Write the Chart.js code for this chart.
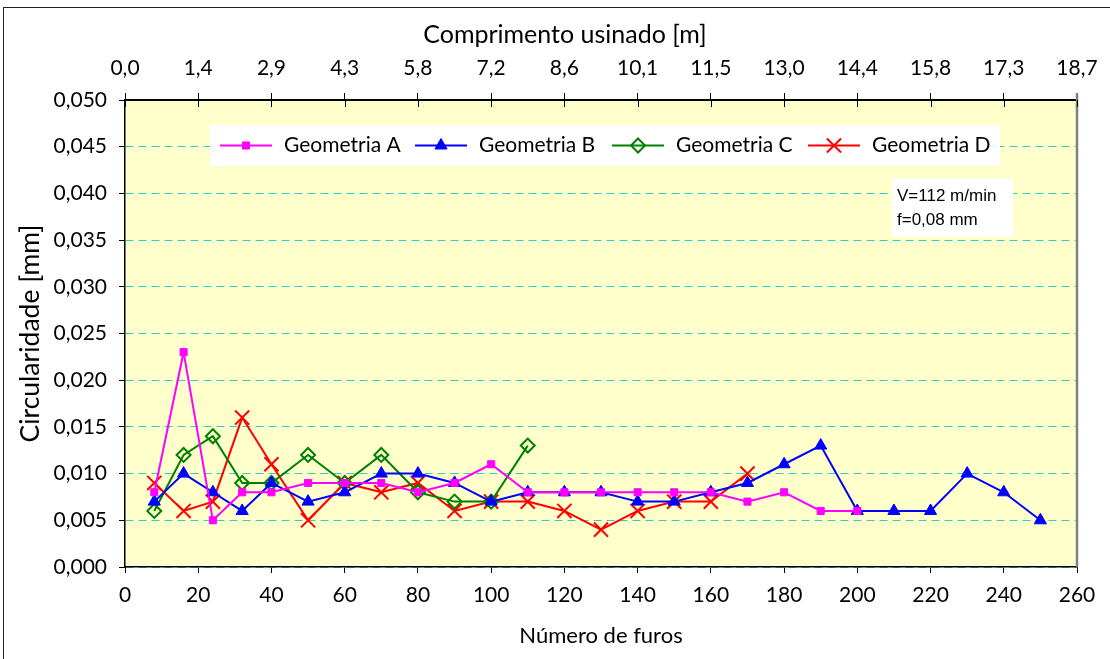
<!DOCTYPE html>
<html>
<head>
<meta charset="utf-8">
<title>Circularidade x Número de furos</title>
<script src="https://cdn.jsdelivr.net/npm/chart.js@4/dist/chart.umd.min.js"></script>
<style>
  html, body { margin: 0; padding: 0; background: #fff; }
  #wrap { position: relative; width: 1110px; height: 659px; overflow: hidden; }
  #frame { position: absolute; left: 3px; top: 7px; width: 1120px; height: 700px; border: 1px solid #222; box-sizing: border-box; }
  canvas { position: absolute; left: 0; top: 0; }
</style>
</head>
<body>
<div id="wrap">
  <div id="frame"></div>
  <canvas id="c" width="1110" height="659"></canvas>
</div>
<script>
// Hole counts (x) and circularity in mm (y) for each tool geometry
const furosA = [8, 16, 24, 32, 40, 50, 60, 70, 80, 90, 100, 110, 120, 130, 140, 150, 160, 170, 180, 190, 200];
const circA  = [0.008, 0.023, 0.005, 0.008, 0.008, 0.009, 0.009, 0.009, 0.008, 0.009, 0.011, 0.008, 0.008, 0.008, 0.008, 0.008, 0.008, 0.007, 0.008, 0.006, 0.006];

const furosB = [8, 16, 24, 32, 40, 50, 60, 70, 80, 90, 100, 110, 120, 130, 140, 150, 160, 170, 180, 190, 200, 210, 220, 230, 240, 250];
const circB  = [0.007, 0.010, 0.008, 0.006, 0.009, 0.007, 0.008, 0.010, 0.010, 0.009, 0.007, 0.008, 0.008, 0.008, 0.007, 0.007, 0.008, 0.009, 0.011, 0.013, 0.006, 0.006, 0.006, 0.010, 0.008, 0.005];

const furosC = [8, 16, 24, 32, 40, 50, 60, 70, 80, 90, 100, 110];
const circC  = [0.006, 0.012, 0.014, 0.009, 0.009, 0.012, 0.009, 0.012, 0.008, 0.007, 0.007, 0.013];

const furosD = [8, 16, 24, 32, 40, 50, 60, 70, 80, 90, 100, 110, 120, 130, 140, 150, 160, 170];
const circD  = [0.009, 0.006, 0.007, 0.016, 0.011, 0.005, 0.009, 0.008, 0.009, 0.006, 0.007, 0.007, 0.006, 0.004, 0.006, 0.007, 0.007, 0.010];

const seriesNames = ['Geometria A', 'Geometria B', 'Geometria C', 'Geometria D'];

// Machined length labels for the top axis (one per 20 holes)
const comprimentoLabels = ['0,0', '1,4', '2,9', '4,3', '5,8', '7,2', '8,6', '10,1', '11,5', '13,0', '14,4', '15,8', '17,3', '18,7'];

const condicoes = ['V=112 m/min', 'f=0,08 mm'];

const FONT = 'Lato, "Open Sans", sans-serif';

function pts(xs, ys) { return xs.map((x, i) => ({ x: x, y: ys[i] })); }

const plotDecor = {
  id: 'plotDecor',
  beforeDraw(chart) {
    const { ctx, chartArea: a } = chart;
    ctx.save();
    ctx.fillStyle = '#FFFFCC';
    ctx.fillRect(a.left, a.top, a.right - a.left, a.bottom - a.top);
    ctx.restore();
  },
  afterDraw(chart) {
    const { ctx, chartArea: a } = chart;
    ctx.save();
    // right edge of plot area
    ctx.strokeStyle = '#808080';
    ctx.lineWidth = 2.5;
    ctx.beginPath();
    ctx.moveTo(a.right, a.top - 7);
    ctx.lineTo(a.right, a.bottom);
    ctx.stroke();

    // inner half of the top axis tick marks
    const top = chart.scales.x2;
    ctx.strokeStyle = '#000';
    ctx.lineWidth = 1;
    top.ticks.forEach(t => {
      const px = Math.round(top.getPixelForValue(t.value)) + 0.5;
      ctx.beginPath();
      ctx.moveTo(px, a.top);
      ctx.lineTo(px, a.top + 7);
      ctx.stroke();
    });

    // top title
    ctx.fillStyle = '#000';
    ctx.font = '25px ' + FONT;
    ctx.textAlign = 'center';
    ctx.textBaseline = 'alphabetic';
    ctx.fillText('Comprimento usinado [m]', 565, 43);

    // legend box
    const lx = 210, ly = 125, lw = 790, lh = 41;
    ctx.fillStyle = '#fff';
    ctx.fillRect(lx, ly, lw, lh);
    const itemX = [220, 415, 612, 808];
    chart.data.datasets.forEach((ds, i) => {
      const x0 = itemX[i], y0 = ly + lh / 2;
      ctx.strokeStyle = ds.borderColor;
      ctx.lineWidth = 2;
      ctx.beginPath();
      ctx.moveTo(x0, y0);
      ctx.lineTo(x0 + 52, y0);
      ctx.stroke();
      ctx.fillStyle = ds.pointBackgroundColor;
      ctx.strokeStyle = ds.pointBorderColor;
      ctx.lineWidth = ds.pointBorderWidth;
      Chart.helpers.drawPoint(ctx, {
        pointStyle: ds.pointStyle,
        radius: ds.pointRadius,
        borderWidth: ds.pointBorderWidth,
        rotation: 0
      }, x0 + 26, y0);
      ctx.fillStyle = '#000';
      ctx.font = '21px ' + FONT;
      ctx.textAlign = 'left';
      ctx.textBaseline = 'middle';
      ctx.fillText(ds.label, x0 + 64, y0);
    });

    // test conditions box
    ctx.fillStyle = '#fff';
    ctx.fillRect(892, 178, 121, 59);
    ctx.fillStyle = '#000';
    ctx.font = '17px "Liberation Sans", Arial, sans-serif';
    ctx.textAlign = 'left';
    ctx.textBaseline = 'alphabetic';
    ctx.fillText(condicoes[0], 897, 201);
    ctx.fillText(condicoes[1], 897, 225);
    ctx.restore();
  }
};

const common = { borderWidth: 2, fill: false, tension: 0, pointBorderWidth: 2 };

new Chart(document.getElementById('c'), {
  type: 'line',
  data: {
    datasets: [
      Object.assign({}, common, {
        label: seriesNames[0], data: pts(furosA, circA),
        borderColor: '#FF00FF', pointBackgroundColor: '#FF00FF', pointBorderColor: '#FF00FF',
        pointStyle: 'rect', pointRadius: 5, pointBorderWidth: 1
      }),
      Object.assign({}, common, {
        label: seriesNames[1], data: pts(furosB, circB),
        borderColor: '#0000FF', pointBackgroundColor: '#0000FF', pointBorderColor: '#0000FF',
        pointStyle: 'triangle', pointRadius: 7, pointBorderWidth: 1
      }),
      Object.assign({}, common, {
        label: seriesNames[2], data: pts(furosC, circC),
        borderColor: '#008000', pointBackgroundColor: 'rgba(0,0,0,0)', pointBorderColor: '#008000',
        pointStyle: 'rectRot', pointRadius: 7, pointBorderWidth: 2
      }),
      Object.assign({}, common, {
        label: seriesNames[3], data: pts(furosD, circD),
        borderColor: '#FF0000', pointBackgroundColor: '#FF0000', pointBorderColor: '#FF0000',
        pointStyle: 'crossRot', pointRadius: 10, pointBorderWidth: 2
      })
    ]
  },
  options: {
    responsive: false,
    animation: false,
    devicePixelRatio: 1,
    layout: { padding: { left: 0, right: 33, top: 0, bottom: 0 } },
    plugins: { legend: { display: false }, tooltip: { enabled: false } },
    scales: {
      x: {
        type: 'linear', position: 'bottom', min: 0, max: 260,
        afterFit: s => { s.height = 92; },
        ticks: { stepSize: 20, color: '#000', font: { family: FONT, size: 21 }, padding: 10, maxRotation: 0, autoSkip: false },
        grid: { drawOnChartArea: false, tickColor: '#000', tickLength: 6 },
        border: { color: '#000', width: 1.5 },
        title: { display: true, text: 'Número de furos', color: '#000', font: { family: FONT, size: 22 }, padding: { bottom: 10 } }
      },
      x2: {
        type: 'linear', position: 'top', min: 0, max: 260,
        afterFit: s => { s.height = 100; },
        ticks: { stepSize: 20, color: '#000', font: { family: FONT, size: 21 }, padding: 12, maxRotation: 0, autoSkip: false,
          callback: (v, i) => comprimentoLabels[i] },
        grid: { drawOnChartArea: false, tickColor: '#000', tickLength: 7 },
        border: { color: '#000', width: 2 }
      },
      y: {
        type: 'linear', position: 'left', min: 0, max: 0.05,
        afterFit: s => { s.width = 125; },
        ticks: { stepSize: 0.005, color: '#000', font: { family: FONT, size: 21 }, padding: 12,
          callback: v => v.toFixed(3).replace('.', ',') },
        grid: { color: '#33CCCC', lineWidth: 1, tickColor: '#000', tickLength: 6 },
        border: { color: '#000', width: 1.5, dash: [8, 5] },
        title: { display: true, text: 'Circularidade [mm]', color: '#000', font: { family: FONT, size: 26.5 }, padding: { top: 15 } }
      }
    }
  },
  plugins: [plotDecor]
});
</script>
</body>
</html>
